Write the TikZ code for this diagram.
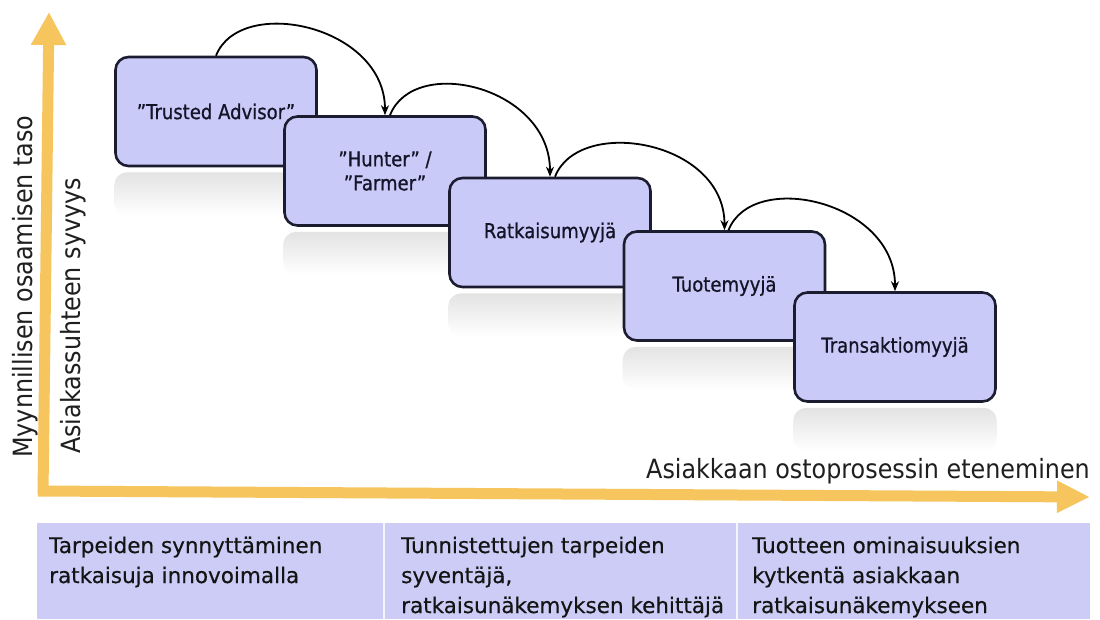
\documentclass[tikz,border=0pt]{standalone}
\usepackage{fontspec}
\setmainfont{DejaVu Sans}
\newfontfamily\axfont{DejaVu Sans}[FakeStretch=0.9]
\newfontfamily\bxfont{DejaVu Sans}[FakeStretch=0.88,FakeBold=0.8]
\newfontfamily\bdfont{DejaVu Sans}[FakeBold=0.4]
\usetikzlibrary{arrows.meta}
\definecolor{axisgold}{RGB}{246,197,94}
\definecolor{boxfill}{RGB}{202,202,248}
\definecolor{boxline}{RGB}{28,28,48}
\definecolor{bandfill}{RGB}{204,204,246}
\definecolor{txtdark}{RGB}{20,20,40}
\begin{document}
\begin{tikzpicture}[x=1pt,y=-1pt,
  stagebox/.style={draw=boxline, line width=2.6pt, fill=boxfill, rounded corners=13pt,
    minimum width=201pt, minimum height=109pt, inner sep=2pt, align=center,
    text=txtdark, font=\bxfont\fontsize{20.5}{24}\selectfont},
  reflect/.style={top color=black!11, bottom color=white, rounded corners=13pt},
  hop/.style={-{Stealth[length=10pt,width=8pt]}, line width=1.8pt, black},
  axisline/.style={draw=axisgold, line width=11pt},
  axislabel/.style={text=black!88, inner sep=0pt, font=\axfont\fontsize{26.5}{30}\selectfont},
  bandcell/.style={fill=bandfill, draw=none, minimum height=96pt, inner sep=0pt, anchor=north west},
  divider/.style={draw=white!80!bandfill, line width=2pt},
  bandtext/.style={anchor=base west, align=left, inner sep=0pt, text=black!92,
    font=\bdfont\fontsize{21.5}{30}\selectfont}
]
\useasboundingbox (0,0) rectangle (1100,619);
\fill[white] (0,0) rectangle (1100,619);

% axes
\coordinate (yb) at (43,494);
\coordinate (yt) at (49,12);
\coordinate (xl) at (38,491);
\coordinate (xr) at (1090,497);
\draw[axisline, -{Triangle[length=33pt,width=33pt]}] (yb) -- (yt);
\draw[axisline, -{Triangle[length=33pt,width=30pt]}] (xl) -- (xr);

% axis labels
\node[axislabel, rotate=90, anchor=base west] (ylab1) at (32,458) {Myynnillisen osaamisen taso};
\node[axislabel, rotate=90, anchor=base west] (ylab2) at (80,454) {Asiakassuhteen syvyys};
\node[axislabel, anchor=base east] (xlab) at (1090,478) {Asiakkaan ostoprosessin eteneminen};

% stage boxes with reflections
\node[stagebox] (b1) at (216,111.5) {”Trusted Advisor”};
\shade[reflect] ([yshift=-5pt]b1.south west) rectangle ([yshift=-48pt]b1.south east);
\node[stagebox] (b2) at (385,171) {”Hunter” /\\”Farmer”};
\shade[reflect] ([yshift=-5pt]b2.south west) rectangle ([yshift=-48pt]b2.south east);
\node[stagebox] (b3) at (550,232.5) {Ratkaisumyyjä};
\shade[reflect] ([yshift=-5pt]b3.south west) rectangle ([yshift=-48pt]b3.south east);
\node[stagebox] (b4) at (724.5,286) {Tuotemyyjä};
\shade[reflect] ([yshift=-5pt]b4.south west) rectangle ([yshift=-48pt]b4.south east);
\node[stagebox] (b5) at (895,347) {Transaktiomyyjä};
\shade[reflect] ([yshift=-5pt]b5.south west) rectangle ([yshift=-48pt]b5.south east);

% hops
\draw[hop] (b1.north) .. controls +(24,-61) and +(0,-90) .. (b2.north);
\draw[hop] ([xshift=5pt]b2.north) .. controls +(24,-61) and +(0,-90) .. (b3.north);
\draw[hop] ([xshift=5pt]b3.north) .. controls +(24,-61) and +(0,-90) .. (b4.north);
\draw[hop] ([xshift=4pt]b4.north) .. controls +(24,-61) and +(0,-90) .. (b5.north);

% bottom band
\node[bandcell, minimum width=347pt] (c1) at (37,523) {};
\node[bandcell, minimum width=353pt] (c2) at (384,523) {};
\node[bandcell, minimum width=353pt] (c3) at (737,523) {};
\draw[divider] (c1.north east) -- (c1.south east);
\draw[divider] (c2.north east) -- (c2.south east);

\node[bandtext] (t1) at (49,583) {Tarpeiden synnyttäminen\\ratkaisuja innovoimalla};
\node[bandtext] (t2) at (401,613) {Tunnistettujen tarpeiden\\syventäjä,\\ratkaisunäkemyksen kehittäjä};
\node[bandtext] (t3) at (752,613) {Tuotteen ominaisuuksien\\kytkentä asiakkaan\\ratkaisunäkemykseen};
\end{tikzpicture}
\end{document}
